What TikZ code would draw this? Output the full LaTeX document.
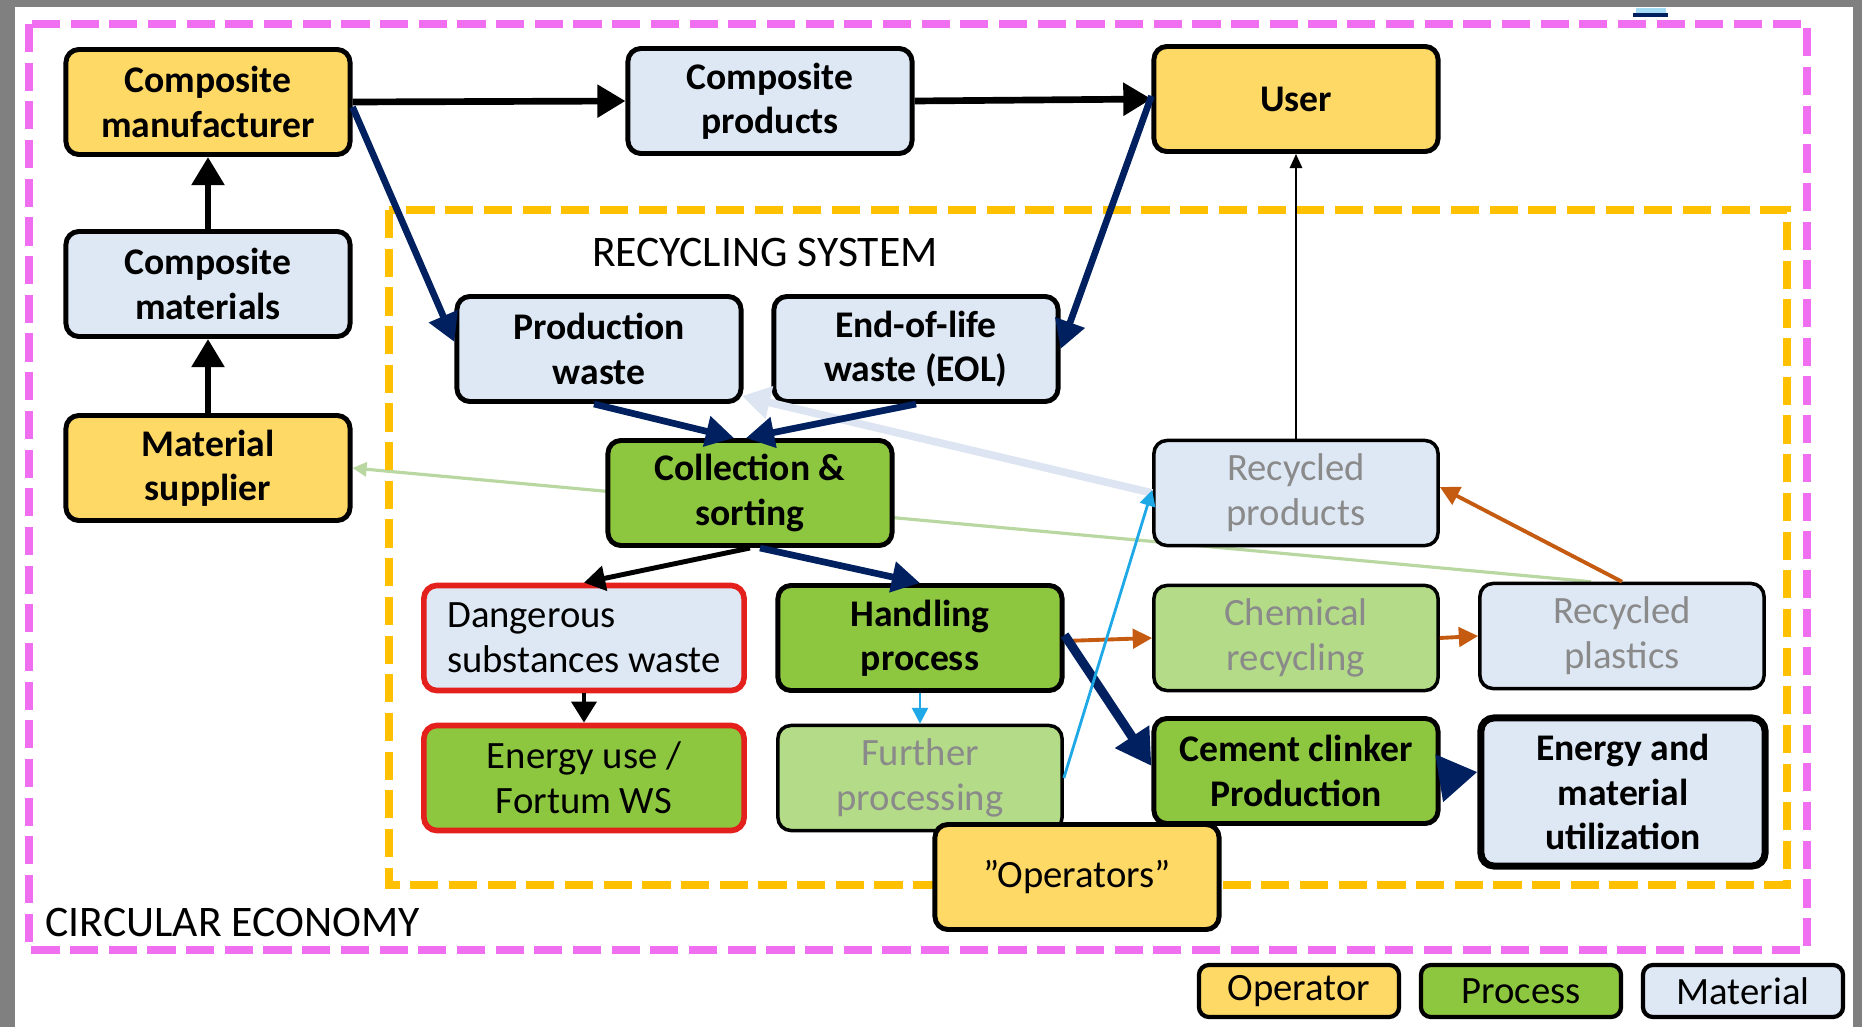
\documentclass[tikz,border=0pt]{standalone}
\usepackage{fontspec}
\setmainfont{Carlito}
\usetikzlibrary{arrows.meta}

\definecolor{opfill}{HTML}{FFD966}
\definecolor{matfill}{HTML}{DEE8F4}
\definecolor{procfill}{HTML}{8DC63F}
\definecolor{procfaint}{HTML}{B4DB88}
\definecolor{fadetext}{HTML}{8A8A8A}
\definecolor{navy}{HTML}{002060}
\definecolor{rust}{HTML}{C55A11}
\definecolor{sky}{HTML}{1EA8E6}
\definecolor{paleblue}{HTML}{DDE5F3}
\definecolor{palegreen}{HTML}{B9D7A0}
\definecolor{ceborder}{HTML}{F06EF0}
\definecolor{rsborder}{HTML}{FFC000}
\definecolor{hazard}{HTML}{E3201C}
\definecolor{framegray}{HTML}{808080}

\newcommand\boxbold{\fontsize{10.7}{12.6}\selectfont\bfseries}
\newcommand\boxplain{\fontsize{11}{12.8}\selectfont}

\pgfdeclarelayer{background}
\pgfsetlayers{background,main}

\tikzset{
  box/.style={draw=black, line width=1.4pt, rounded corners=0.13cm, align=center,
    font=\boxbold, minimum width=2.84cm, minimum height=1.05cm, inner sep=1pt},
  oper/.style={box, fill=opfill},
  mat/.style={box, fill=matfill},
  proc/.style={box, fill=procfill},
  faint/.style={line width=1.0pt, font=\boxplain, text=fadetext},
  faintproc/.style={box, fill=procfaint, faint},
  hazardbox/.style={draw=hazard, line width=1.6pt, font=\boxplain, minimum width=3.20cm},
  plain/.style={font=\boxplain},
  legend/.style={draw=black, line width=1.2pt, rounded corners=0.1cm, font=\boxplain,
    minimum width=2.0cm, minimum height=0.52cm, inner sep=1pt},
  blkthick/.style={draw=black, line width=1.9pt, -{Triangle[length=8pt,width=9pt]}},
  blkmid/.style={draw=black, line width=1.4pt, -{Triangle[length=6pt,width=7pt]}},
  blkthin/.style={draw=black, line width=0.6pt, -{Triangle[length=4pt,width=3.5pt]}},
  navyarr/.style={draw=navy, line width=1.9pt, -{Triangle[length=8pt,width=8.5pt]}},
  navythick/.style={draw=navy, line width=2.6pt, -{Triangle[length=10pt,width=11pt]}},
  rustarr/.style={draw=rust, line width=1.1pt, -{Triangle[length=5.5pt,width=5.5pt]}},
  skyarr/.style={draw=sky, line width=0.8pt, -{Triangle[length=4.5pt,width=4.5pt]}},
  greenarr/.style={draw=palegreen, line width=0.9pt, -{Triangle[length=4pt,width=4pt]}},
  palearr/.style={draw=paleblue, line width=2.2pt, -{Triangle[length=8pt,width=9pt]}},
  region/.style={line width=2.3pt, dash pattern=on 8pt off 3pt},
  regionlabel/.style={font=\fontsize{12.4}{14}\selectfont, inner sep=0pt}
}

\begin{document}
\begin{tikzpicture}[x=0.01cm, y=-0.01cm]
  \useasboundingbox (0,0) rectangle (1862,1027);

  % page frame
  \fill[framegray] (0,0) rectangle (15,1027);
  \fill[framegray] (0,0) rectangle (1862,7);
  \fill[framegray] (1853,0) rectangle (1862,1027);
  \draw[sky!40, line width=1.5pt] (1636,11) -- (1666,11);
  \draw[navy, line width=1.1pt] (1633,15) -- (1668,15);

  % regions
  \draw[ceborder, region] (29,24) rectangle (1807,950);
  \draw[rsborder, region] (389,210) rectangle (1787,885);
  \node[regionlabel] (rslabel) at (765,252) {RECYCLING SYSTEM};
  \node[regionlabel, anchor=west] (celabel) at (45,923) {CIRCULAR ECONOMY};

  % actors, materials and processes
  \node[oper] (manuf) at (208,102) {Composite\\manufacturer};
  \node[mat] (cprod) at (770,101) {Composite\\products};
  \node[oper] (user) at (1296,99) {User};
  \node[mat] (cmat) at (208,284) {Composite\\materials};
  \node[oper] (supp) at (208,468) {Material\\supplier};
  \node[mat] (pwaste) at (599,349) {Production\\waste};
  \node[mat] (eol) at (916,349) {End-of-life\\waste (EOL)};
  \node[proc] (coll) at (750,493) {Collection \&\\sorting};
  \node[mat, faint] (recprod) at (1296,493) {Recycled\\products};
  \node[mat, hazardbox, align=left] (danger) at (584,638) {Dangerous\\substances waste};
  \node[proc] (handle) at (920,638) {Handling\\process};
  \node[faintproc] (chem) at (1296,638) {Chemical\\recycling};
  \node[mat, faint] (recplast) at (1622,636) {Recycled\\plastics};
  \node[proc, hazardbox] (enuse) at (584,778) {Energy use /\\Fortum WS};
  \node[faintproc] (further) at (920,778) {Further\\processing};
  \node[proc] (cement) at (1296,771) {Cement clinker\\Production};
  \node[mat, line width=2pt, minimum height=1.48cm] (util) at (1623,792) {Energy and\\material\\utilization};

  % legend
  \node[legend, fill=opfill] (lgop) at (1299,991) {Operator};
  \node[legend, fill=procfill] (lgpr) at (1521,991) {Process};
  \node[legend, fill=matfill] (lgma) at (1743,991) {Material};

  % return flow to the supplier, behind the boxes
  \begin{pgfonlayer}{background}
    \draw[greenarr] ([xshift=-0.31cm]recplast.north) -- (supp.east);
  \end{pgfonlayer}

  % main product chain
  \draw[blkthick] (manuf.east) -- (cprod.west);
  \draw[blkthick] (cprod.east) -- (user.west);
  \draw[blkthick] (cmat.north) -- (manuf.south);
  \draw[blkthick] (supp.north) -- (cmat.south);

  % faded feedback of recycled products
  \coordinate (fadeend) at (742,396);
  \draw[palearr] (recprod.west) -- (fadeend);

  % waste streams
  \draw[navyarr] ([yshift=-0.05cm]manuf.east) -- ([yshift=0.07cm]pwaste.west);
  \draw[navyarr] ([yshift=0.03cm]user.west) -- (eol.east);
  \draw[navyarr] ([xshift=-0.05cm]pwaste.south) -- ([xshift=-0.16cm]coll.north);
  \draw[navyarr] (eol.south) -- ([xshift=-0.04cm]coll.north);
  \draw[navyarr] ([xshift=0.1cm]coll.south) -- (handle.north);
  \draw[blkmid] (coll.south) -- (danger.north);
  \draw[blkmid] (danger.south) -- (enuse.north);
  \draw[skyarr] (handle.south) -- (further.north);
  \draw[rustarr] ([yshift=-0.03cm]handle.east) -- (chem.west);
  \draw[rustarr] (chem.east) -- (recplast.west);
  \draw[rustarr] (recplast.north) -- ([yshift=0.06cm]recprod.east);
  \draw[navythick] ([yshift=0.03cm]handle.east) -- ([yshift=0.05cm]cement.west);
  \draw[navythick, -{Triangle[length=11pt,width=13pt]}] ([yshift=-0.07cm]cement.east) -- ([yshift=0.2cm]util.west);
  \draw[skyarr] (further.east) -- ([yshift=0.03cm]recprod.west);
  \draw[blkthin] (recprod.north) -- (user.south);

  % operators box on top
  \node[oper, plain] (ops) at (1077,877) {”Operators”};
\end{tikzpicture}
\end{document}
